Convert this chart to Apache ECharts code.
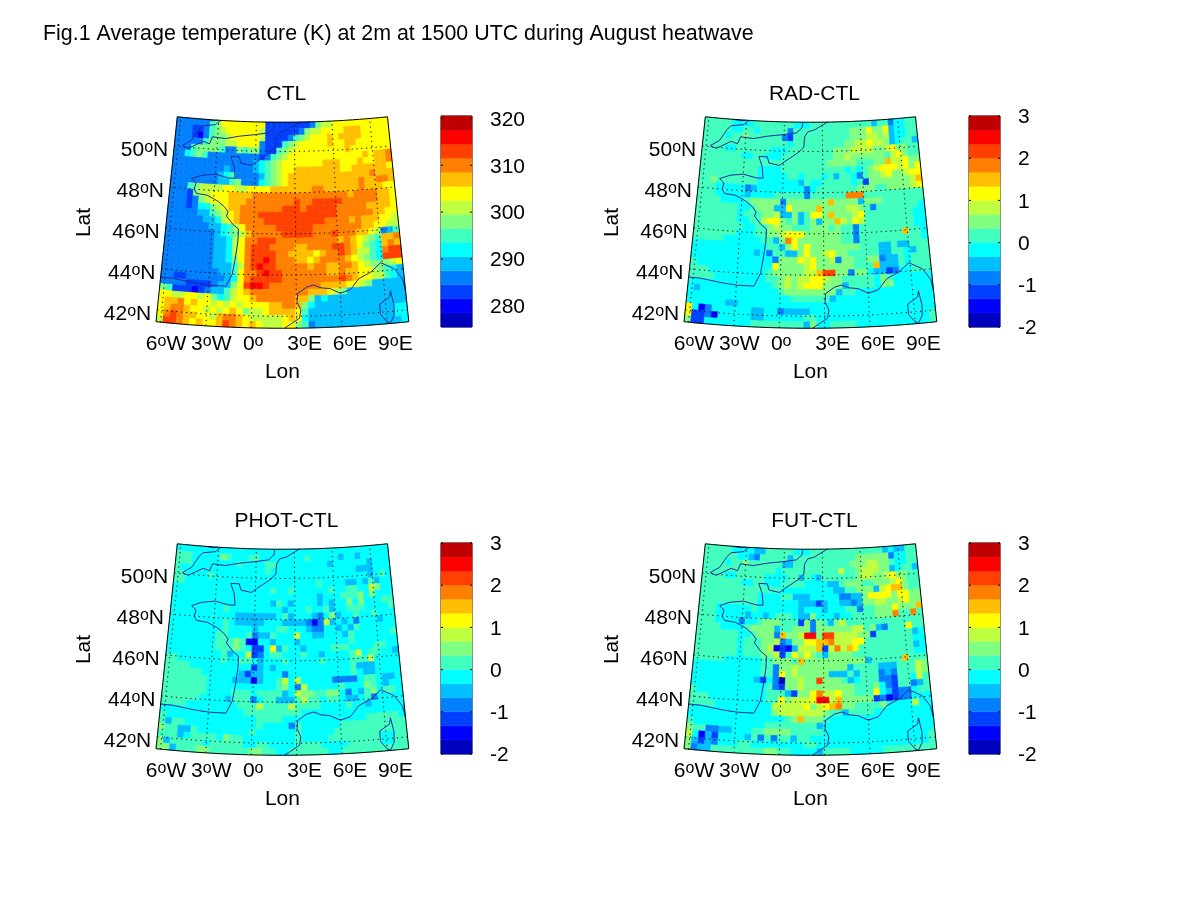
<!DOCTYPE html>
<html><head><meta charset="utf-8">
<style>html,body{margin:0;padding:0;background:#fff}#c{width:1200px;height:900px}</style>
<script src="https://cdn.jsdelivr.net/npm/echarts@6/dist/echarts.min.js"></script>
</head><body><div id="c"></div>
<script>
const figureTitle='Fig.1 Average temperature (K) at 2m at 1500 UTC during August heatwave';
const panelNames=['CTL','RAD-CTL','PHOT-CTL','FUT-CTL'];
const palette=['#0000bf','#0000ff','#0040ff','#0080ff','#00bfff','#00ffff','#40ffbf','#80ff80','#bfff40','#ffff00','#ffbf00','#ff8000','#ff4000','#ff0000','#bf0000'];
const ctlRange=[275.5,320.5];
const diffRange=[-2,3];
const ctlTicks=[280,290,300,310,320];
const diffTicks=[-2,-1,0,1,2,3];
const lonTicks=[-6,-3,0,3,6,9];
const latTicks=[42,44,46,48,50];
// each character = colour class (0..e) of one grid cell, north to south, west to east
const ctlCells=[
'3333336799 9999992222 2222378899 99999999',
'3332236789 9999982222 2237889999 aaa99999',
'3332136778 9999982222 3678999a9a aaa99999',
'3333367778 8999932226 7899999a99 aa999999',
'3336777763 3767732267 8999999999 a9999999',
'3356763333 3333323678 9999999999 999a9aab',
'3333333333 3333456789 999999aaa9 99a99aab',
'3333333334 3333456789 9aaaaaaaa9 9aaaaaa9',
'3333333345 6333346789 aaaaaaaaaa aaaabaaa',
'3333333344 6733356789 aaaaaaaaaa aabaabba',
'3336788889 9889999aaa aaaabbaaaa aabaaa99',
'3332788999 aaaabbbbbb bbbbbbbbbb abbbbaa9',
'3332378999 aaabbbbbbb bcbbcccccb bbbbbaa9',
'3332355789 aabbbbbbbc ccbcccccbb bbbaaaa9',
'3333344678 9abbbccccc ccccccccbb bbbbaa99',
'3333334458 9abbbbcccc ccccccbbbb abaaa998',
'3333333445 689bbbbbcc ccccbbbbbb bbaa9988',
'3333333345 678abbbbbc ccccbbbcbb baa98346',
'3333333344 589bbcccbb bbbbbbbbab a9876aab',
'3333333344 589bcccbbb baabbbbccb a9765aba',
'3333333344 589bccccbb aaaa9abbcb a8865bcc',
'3333333344 579bccdcbb baa9abbbba 98765ccc',
'3333333344 468bcdccbb bbbabbaabb a9877789',
'3333333334 469bbcdccb bbbbbbaaba a9987654',
'3322333333 459bcccccb bbbbbbbbcb a9988654',
'3333222234 479cddcbbb bbbbbaaaa9 98744444',
'7622212344 689abbbbbb bbbaaa9874 44444444',
'9988998975 6899abbbbb baa7454444 44444444',
'9aab9a9989 8989999aab ba75444444 44444444',
'9abba99898 9a97889aaa a964444444 44444455',
'9bcbaa998a bba9888889 a954444444 44444455',
'8ccba9a99a cba9a98889 9763444444 44444445'];
const radCells=[
'6666655556 6666665556 6666666666 46635566',
'6666655665 6666636666 6666667779 77945566',
'6666566766 6666326666 6666667778 87845566',
'6666666666 6666656666 6666677889 88745664',
'6666556666 6655566666 6667778888 77897766',
'6666666556 6555666666 6667787777 77689766',
'6666666666 6666666666 6677777666 77a88977',
'6666666666 5555666666 6666656567 89998979',
'6666666666 5555566566 6564665367 78977899',
'6676666666 5555555465 5666665627 7777778a',
'6665555534 5555555535 6666666777 66777789',
'6665555545 5556666636 66666bbb66 66666666',
'6666555567 7777377777 77a7777477 76666666',
'6666666556 7774497777 a777788763 66666665',
'6666666566 6778447469 97a7778966 66666655',
'6666666556 6899767467 477a879866 66666655',
'6666666655 6678776667 7767663666 66666655',
'6666666555 6677899977 7777663666 6666a665',
'6666655555 56647b9777 7777663666 66666665',
'5555555555 5566479797 7777777666 44644666',
'5555555555 4536644797 7897766666 44665466',
'5555555555 5553777989 7783776677 34465666',
'6555555555 5559777789 777777666a 44465666',
'6665555555 5567777788 acc7737754 42355666',
'6666555555 5566787889 9877666665 76555555',
'5555555555 5556787899 9777466665 77555555',
'5455555555 5555677777 7774665555 55555555',
'5555555555 5555556666 6645555555 55555555',
'5555554455 5555555555 5555555555 55555555',
'9513555555 4455344445 5555555555 55555555',
'9223155555 4455555566 5555555555 55555556',
'7225555555 6666666647 5566665555 55555556'];
const photCells=[
'5555555555 5555555555 5555555555 55555555',
'6665555576 5556655555 5556555554 55455555',
'6665555555 5655556655 5555555455 55554555',
'6555555555 5555556555 5555555555 55444555',
'6655556555 5555555555 5555555555 55554565',
'6655555555 5555555555 5555565555 44546455',
'5555555555 5555555655 6555555655 66558755',
'5555555555 5555555555 5555545556 66757555',
'5555555555 5555555465 4555545455 75755566',
'5555555556 5555555554 5556556455 66655556',
'5555555555 5444444456 4555435745 56556555',
'5555555556 5444445554 4443138454 53555455',
'5555555556 5555455566 5554335545 46555555',
'5555555566 5556344655 5855445554 65555556',
'5555555566 6761155455 5455555555 65555555',
'5555555566 6765225946 5545555666 55556655',
'5555555556 4558235665 5565545555 68566554',
'6655555556 5566545556 5555565555 66685555',
'6666555555 5555245455 5555555555 64445555',
'6666665555 5542445553 5555555555 65445555',
'6666666555 5444145568 5855555333 35665445',
'6666666555 5555555567 5385555565 55765455',
'6666666555 5666566664 5877667753 54675665',
'6666665555 4666356644 4686656654 45635555',
'6666555555 5566686666 8666655556 55455555',
'5555555555 5556666666 6655555555 55555555',
'6555555555 5555566665 5555555555 55666665',
'6466555555 5555565555 3655555566 66666666',
'7664465555 5555655555 5655555666 66666666',
'6664566665 7665555555 5655556666 66665566',
'7466666566 6665566555 5666655556 66665566',
'7746667766 6666776655 6666665566 66666666'];
const futCells=[
'6666655554 4666665556 6666666666 66454466',
'6666665543 6666646666 6666666777 77735566',
'6666566766 6666446666 6666667778 87765566',
'6666666666 6665666666 6666866788 87745664',
'6666556666 6555566465 4666666788 77897766',
'6666666556 6555666655 5544677766 77789766',
'6666666666 6666555555 5554466777 489aa766',
'6666666666 5555664445 5555334479 99979977',
'6666666666 5555555444 2455443477 88778977',
'6665555556 5555555455 5455566366 7779777a',
'6665555545 5456665447 5554556666 777b66b6',
'6665555355 6777666273 7647866666 66666666',
'6666555567 7774667773 7777778867 43666966',
'6666666556 7773a778dd 7cc8888772 66666645',
'6666666566 6778347799 aab8889966 66666655',
'6666666566 6781214888 a28b8a9666 66666645',
'6666666566 6778269797 6477776666 66666655',
'6666655555 5667776a77 7777777746 6666a666',
'5555555555 5663778777 7777746666 44466687',
'5555555555 5663978777 7744464666 34366687',
'5555555555 4253077877 c777645666 33266586',
'5555555555 5563277877 7777776667 53266346',
'6555555555 5566642779 b889776669 54233566',
'6665555555 5566978889 dd8a777772 31233555',
'6666555555 5558888897 89ab776666 75555855',
'5555555555 5557888888 8766466665 55555555',
'5555555555 5555567a77 7655555555 55555555',
'6555555555 5566666666 4555555555 55555555',
'7663344555 6677776666 6555555555 55555555',
'8514255554 6363664665 5555555555 55555556',
'7424355566 5555555566 5555555555 55555556',
'7344666666 6677665555 4666655555 66666666'];
// coastlines in degrees [lon, lat]
const coastFrance=[[3.4,51.42],[2.4,51.05],[1.85,50.95],[1.6,50.7],[1.55,50.2],[1.1,49.93],[0.1,49.5],[-0.3,49.3],[-1.1,49.4],[-1.25,49.7],[-1.9,49.7],[-1.6,49.2],[-1.5,48.65],[-2.0,48.65],[-3.0,48.8],[-4.0,48.7],[-4.75,48.5],[-4.4,48.3],[-4.5,48.0],[-4.3,47.8],[-3.5,47.75],[-2.7,47.5],[-2.2,47.25],[-1.9,47.0],[-2.0,46.8],[-1.5,46.4],[-1.1,46.2],[-1.1,45.6],[-1.25,44.7],[-1.4,44.0],[-1.8,43.4],[-2.9,43.4],[-3.8,43.45],[-5.5,43.6],[-6.3,43.6]];
const coastEngland=[[1.45,51.37],[1.4,51.15],[0.97,50.9],[-0.1,50.8],[-1.3,50.7],[-2.4,50.55],[-3.4,50.6],[-3.6,50.25],[-4.1,50.35],[-5.2,49.95],[-5.7,50.05],[-5.0,50.35],[-4.5,50.9],[-4.2,51.1],[-3.2,51.2],[-3.0,51.35],[-2.8,51.42]];
const coastWales=[[-4.1,51.42],[-3.4,51.38],[-3.1,51.42]];
const coastMed=[[2.2,41.42],[3.2,41.9],[3.3,42.3],[3.05,42.7],[3.1,43.1],[3.7,43.4],[4.2,43.5],[4.7,43.35],[5.3,43.3],[6.0,43.05],[6.7,43.2],[7.3,43.7],[8.2,44.0],[8.9,44.4],[9.8,44.05],[10.3,43.5],[10.42,42.9]];
const coastCorsica=[[9.4,43.0],[9.3,42.7],[8.6,42.4],[8.6,41.9],[8.9,41.6],[9.2,41.42],[9.5,41.8],[9.55,42.3],[9.4,43.0]];
const coasts=[coastFrance,coastEngland,coastWales,coastMed,coastCorsica];

const nCols=38,nRows=32,lonW=-6.3,dLon=0.44,latN=51.42,dLat=0.3125;
const lonE=lonW+nCols*dLon,latS=latN-nRows*dLat;
const lon0=2.06,cone=0.71,rad42=1210.3,radPerDeg=20.6;
function project(lon,lat){
  const r=rad42-radPerDeg*(lat-42),t=cone*(lon-lon0)*Math.PI/180;
  return [r*Math.sin(t),-r*Math.cos(t)];
}
const FONT='"Liberation Sans",Arial,sans-serif';
const FS=21;
const mapW=252,mapH=211,barW=31;
const layout=[[156.4,117],[684.4,117],[156.4,544],[684.4,544]];
const cellSets=[ctlCells,radCells,photCells,futCells];
const grids=[],xAxes=[],yAxes=[],series=[],titles=[];
titles.push({text:figureTitle,left:38,top:19,textStyle:{fontFamily:FONT,fontSize:21.4,fontWeight:'normal',color:'#000'}});

function lineItem(points,style){
  return (params,api)=>{
    return {type:'polyline',silent:true,shape:{points:points.map(p=>api.coord(project(p[0],p[1])))},style};
  };
}
function polySeries(gi,pts,style,z){
  series.push({type:'custom',xAxisIndex:gi,yAxisIndex:gi,silent:true,z,clip:false,animation:false,
    data:[[0,0]],renderItem:lineItem(pts,style)});
}
panelNames.forEach((name,p)=>{
  const [L,T]=layout[p];
  const gi=grids.length, rng=p===0?ctlRange:diffRange;
  const step=(rng[1]-rng[0])/palette.length;
  grids.push({left:L,top:T,width:mapW,height:mapH});
  xAxes.push({gridIndex:gi,type:'value',min:-mapW/2,max:mapW/2,name:'Lon',nameLocation:'middle',nameGap:34,
    nameTextStyle:{fontFamily:FONT,fontSize:FS,color:'#000'},axisLine:{show:false},axisTick:{show:false},axisLabel:{show:false},splitLine:{show:false}});
  yAxes.push({gridIndex:gi,type:'value',min:-1222,max:-1222+mapH,name:'Lat',nameLocation:'middle',nameGap:62,nameRotate:90,
    nameTextStyle:{fontFamily:FONT,fontSize:FS,color:'#000'},axisLine:{show:false},axisTick:{show:false},axisLabel:{show:false},splitLine:{show:false}});
  titles.push({text:name,left:L+125,top:T-38,textAlign:'center',textStyle:{fontFamily:FONT,fontSize:FS,fontWeight:'normal',color:'#000'}});
  // cells
  const rows=cellSets[p].map(s=>s.replace(/ /g,''));
  const data=[];
  rows.forEach((row,j)=>{
    for(let i=0;i<nCols;i++){
      const ch=row[Math.min(i,row.length-1)];
      data.push([lonW+i*dLon,latN-j*dLat,rng[0]+(parseInt(ch,16)+0.5)*step]);
    }
  });
  series.push({type:'custom',xAxisIndex:gi,yAxisIndex:gi,silent:true,z:1,clip:false,animation:false,data,
    dimensions:['lon','lat','value'],encode:{x:0,y:1},
    renderItem:(params,api)=>{
      const lon=api.value(0),lat=api.value(1),v=api.value(2);
      const c=palette[Math.min(palette.length-1,Math.floor((v-rng[0])/step))];
      const corners=[[lon,lat],[lon+dLon,lat],[lon+dLon,lat-dLat],[lon,lat-dLat]];
      return {type:'polygon',shape:{points:corners.map(q=>api.coord(project(q[0],q[1])))},style:{fill:c,stroke:c,lineWidth:0.6}};
    }});
  // graticule
  const dot={stroke:'#000',fill:null,lineWidth:1,lineDash:[1.2,3.6]};
  lonTicks.forEach(lon=>{
    const pts=[];for(let k=0;k<=20;k++)pts.push([lon,latS+(latN-latS)*k/20]);
    polySeries(gi,pts,dot,2);
  });
  latTicks.forEach(lat=>{
    const pts=[];for(let k=0;k<=30;k++)pts.push([lonW+(lonE-lonW)*k/30,lat]);
    polySeries(gi,pts,dot,2);
  });
  // coast
  coasts.forEach(c=>polySeries(gi,c,{stroke:'#1c2c9c',fill:null,lineWidth:1},3));
  // frame
  const frame=[];
  for(let k=0;k<=30;k++)frame.push([lonW+(lonE-lonW)*k/30,latN]);
  for(let k=0;k<=30;k++)frame.push([lonE-(lonE-lonW)*k/30,latS]);
  frame.push([lonW,latN]);
  polySeries(gi,frame,{stroke:'#000',fill:null,lineWidth:1},4);
  // tick labels
  const textStyle=(txt,align)=>({text:txt,align,verticalAlign:'middle',fontFamily:FONT,fontSize:FS,fill:'#000',
    rich:{a:{fontFamily:FONT,fontSize:FS,fill:'#000',color:'#000'},s:{fontFamily:FONT,fontSize:16,verticalAlign:'top',lineHeight:12,color:'#000',fill:'#000'}}});
  series.push({type:'custom',xAxisIndex:gi,yAxisIndex:gi,silent:true,z:5,clip:false,animation:false,
    data:lonTicks.map(l=>[l]),renderItem:(params,api)=>{
      const l=api.value(0),q=api.coord(project(l,latS));
      const num=Math.abs(l);
      const txt=l===0?'{a|0}{s|o}':`{a|${num}}{s|o}{a|${l<0?'W':'E'}}`;
      return {type:'text',x:q[0]+(l<0?5.5:l===0?2:8),y:T+227,style:textStyle(txt,'center')};
    }});
  series.push({type:'custom',xAxisIndex:gi,yAxisIndex:gi,silent:true,z:5,clip:false,animation:false,
    data:latTicks.map(l=>[l]),renderItem:(params,api)=>{
      const l=api.value(0),q=api.coord(project(lonW,l));
      return {type:'text',x:q[0]-6,y:q[1]+4,style:textStyle(`{a|${l}}{s|o}{a|N}`,'right')};
    }});
  // colour bar
  const bi=grids.length, ticks=p===0?ctlTicks:diffTicks;
  grids.push({left:L+284.6,top:T-1,width:barW,height:mapH,show:true,borderColor:'#000',borderWidth:1,backgroundColor:'transparent'});
  xAxes.push({gridIndex:bi,type:'value',min:0,max:1,show:false});
  yAxes.push({gridIndex:bi,type:'value',position:'right',min:rng[0],max:rng[1],splitLine:{show:false},
    axisLine:{show:false},axisTick:{show:false},axisLabel:{show:false}});
  series.push({type:'custom',xAxisIndex:bi,yAxisIndex:bi,silent:true,z:1,clip:false,animation:false,
    data:palette.map((c,i)=>[0,rng[0]+i*step]),
    renderItem:(params,api)=>{
      const i=params.dataIndex,a=api.coord([0,rng[0]+i*step]),b=api.coord([1,rng[0]+(i+1)*step]);
      return {type:'rect',shape:{x:a[0],y:b[1],width:b[0]-a[0],height:a[1]-b[1]},style:{fill:palette[i],stroke:palette[i],lineWidth:0.4}};
    }});
  series.push({type:'custom',xAxisIndex:bi,yAxisIndex:bi,silent:true,z:2,clip:false,animation:false,
    data:ticks.map(t=>[0,t]),
    renderItem:(params,api)=>{
      const t=api.value(1),a=api.coord([0,t]),b=api.coord([1,t]);
      const st={stroke:'#000',lineWidth:1};
      return {type:'group',children:[
        {type:'line',shape:{x1:a[0],y1:a[1],x2:a[0]+2,y2:a[1]},style:st},
        {type:'line',shape:{x1:b[0]-2,y1:b[1],x2:b[0],y2:b[1]},style:st},
        {type:'text',x:b[0]+18,y:b[1]+1.5,style:{text:String(t),align:'left',verticalAlign:'middle',fontFamily:FONT,fontSize:FS,fill:'#000'}}]};
    }});
});
const chart=echarts.init(document.getElementById('c'),null,{renderer:'canvas'});
chart.setOption({backgroundColor:'#fff',animation:false,title:titles,grid:grids,xAxis:xAxes,yAxis:yAxes,series});
</script></body></html>
